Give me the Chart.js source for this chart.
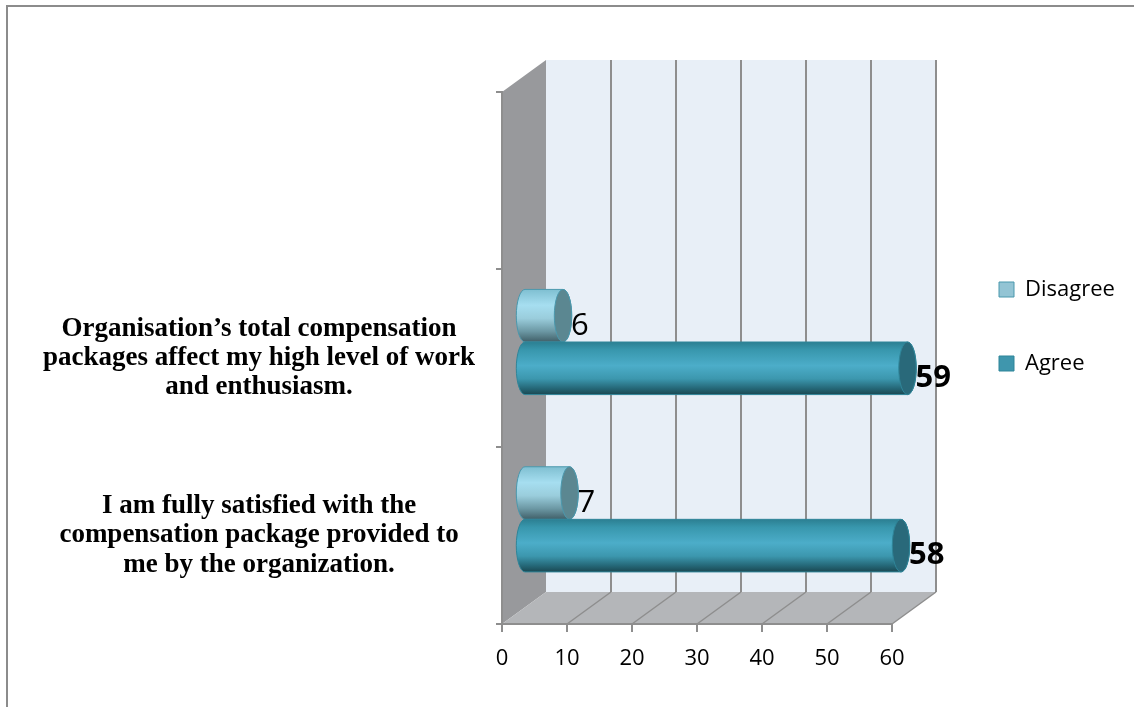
<!DOCTYPE html>
<html>
<head>
<meta charset="utf-8">
<title>Compensation packages</title>
<script src="https://cdn.jsdelivr.net/npm/chart.js@4.4.1/dist/chart.umd.min.js"></script>
<style>
  html, body { margin: 0; padding: 0; background: #fff; overflow: hidden; }
  #frame { position: absolute; left: 6px; top: 5px; width: 1300px; height: 900px; border: 2px solid #8c8c8c; }
  #wrap { position: absolute; left: 0; top: 0; width: 1134px; height: 707px; }
</style>
</head>
<body>
<div id="frame"></div>
<div id="wrap"><canvas id="chart"></canvas></div>
<script>
  // categories listed top to bottom (the top band is empty in the original)
  const CATEGORIES = [
    "",
    ["Organisation’s total compensation", "packages affect my high level of work", "and enthusiasm."],
    ["I am fully satisfied with the", "compensation package provided to", "me by the organization."]
  ];
  const SERIES = ["Disagree", "Agree"];
  const DISAGREE = [null, 6, 7];
  const AGREE = [null, 59, 58];
  const X_MIN = 0;
  const X_MAX = 60;
  const X_STEP = 10;

  const DEPTH = { dx: 44, dy: -32 };
  const GRID = "#8e8e8e";
  const LOOK = {
    Disagree: { fill: "#93c4d4", edge: "#4b98ad", cap: "#5b8791",
      stops: [[0, "#7fbfd1"], [0.3, "#a6def0"], [0.55, "#9acddc"], [0.8, "#6b97a3"], [1, "#405f68"]] },
    Agree: { fill: "#3f96ad", edge: "#2f8599", cap: "#29697a",
      stops: [[0, "#2c7f92"], [0.15, "#3897ad"], [0.45, "#4cadc9"], [0.7, "#3c97ae"], [0.88, "#256878"], [1, "#1a4852"]] }
  };

  function poly(ctx, points, fill) {
    ctx.beginPath();
    points.forEach(([px, py], i) => (i ? ctx.lineTo(px, py) : ctx.moveTo(px, py)));
    ctx.closePath();
    ctx.fillStyle = fill;
    ctx.fill();
  }

  function line(ctx, x1, y1, x2, y2) {
    ctx.beginPath();
    ctx.moveTo(x1, y1);
    ctx.lineTo(x2, y2);
    ctx.stroke();
  }

  const room3d = {
    id: "room3d",
    beforeDraw(chart) {
      const { ctx, chartArea: a } = chart;
      const x = chart.scales.x;
      const { dx, dy } = DEPTH;
      ctx.save();
      ctx.fillStyle = "#e8eff7";
      ctx.fillRect(a.left + dx, a.top + dy, a.right - a.left, a.bottom - a.top);
      poly(ctx, [[a.left, a.top], [a.left + dx, a.top + dy], [a.left + dx, a.bottom + dy], [a.left, a.bottom]], "#98999c");
      poly(ctx, [[a.left, a.bottom], [a.left + dx, a.bottom + dy], [a.right + dx, a.bottom + dy], [a.right, a.bottom]], "#b4b6b9");
      ctx.strokeStyle = GRID;
      ctx.lineWidth = 2;
      x.ticks.forEach((tick, i) => {
        if (tick.value === X_MIN) return;
        const px = x.getPixelForTick(i);
        line(ctx, px + dx, a.top + dy, px + dx, a.bottom + dy);
        ctx.lineWidth = 1.5;
        line(ctx, px, a.bottom, px + dx, a.bottom + dy);
        ctx.lineWidth = 2;
      });
      ctx.restore();
    },
    beforeDatasetsDraw(chart) {
      const { ctx } = chart;
      const hx = DEPTH.dx / 2, hy = DEPTH.dy / 2;
      chart.data.datasets.forEach((ds, di) => {
        const look = LOOK[ds.label];
        chart.getDatasetMeta(di).data.forEach((el, i) => {
          if (ds.data[i] == null) return;
          const x0 = el.base + hx, x1 = el.x + hx;
          const ry = el.height / 2, rx = 8.7;
          const cy = el.y + hy;
          const grad = ctx.createLinearGradient(0, cy - ry, 0, cy + ry);
          look.stops.forEach(([o, c]) => grad.addColorStop(o, c));
          ctx.save();
          ctx.beginPath();
          ctx.moveTo(x0, cy - ry);
          ctx.lineTo(x1, cy - ry);
          ctx.ellipse(x1, cy, rx, ry, 0, -Math.PI / 2, Math.PI / 2);
          ctx.lineTo(x0, cy + ry);
          ctx.ellipse(x0, cy, rx, ry, 0, Math.PI / 2, Math.PI * 1.5);
          ctx.closePath();
          ctx.fillStyle = grad;
          ctx.fill();
          ctx.strokeStyle = look.edge;
          ctx.lineWidth = 1;
          ctx.stroke();
          ctx.beginPath();
          ctx.ellipse(x1, cy, rx, ry, 0, 0, Math.PI * 2);
          ctx.fillStyle = look.cap;
          ctx.fill();
          ctx.stroke();
          ctx.restore();
        });
      });
      return false;
    },
    afterDraw(chart) {
      const { ctx } = chart;
      const hx = DEPTH.dx / 2, hy = DEPTH.dy / 2;
      ctx.save();
      ctx.fillStyle = "#000";
      ctx.textAlign = "left";
      ctx.textBaseline = "middle";
      chart.data.datasets.forEach((ds, di) => {
        ctx.font = (ds.label === "Agree" ? "bold " : "") + "31px 'Open Sans'";
        chart.getDatasetMeta(di).data.forEach((el, i) => {
          if (ds.data[i] == null) return;
          ctx.fillText(String(ds.data[i]), el.x + hx + 8, el.y + hy + 10);
        });
      });
      ctx.restore();
    },
    afterLayout(chart) {
      const lg = chart.legend;
      if (!lg) return;
      lg.left = 947;
      lg.right = 1134;
      lg.width = lg.right - lg.left;
      lg.top = 226.5;
      lg.bottom = 707;
      lg.height = lg.bottom - lg.top;
    }
  };

  new Chart(document.getElementById("chart"), {
    type: "bar",
    data: {
      labels: CATEGORIES,
      datasets: [
        { label: SERIES[0], data: DISAGREE, backgroundColor: LOOK.Disagree.fill, borderColor: LOOK.Disagree.edge, borderWidth: 1 },
        { label: SERIES[1], data: AGREE, backgroundColor: LOOK.Agree.fill, borderColor: LOOK.Agree.edge, borderWidth: 1 }
      ]
    },
    options: {
      indexAxis: "y",
      responsive: true,
      maintainAspectRatio: false,
      animation: false,
      datasets: { bar: { categoryPercentage: 0.593, barPercentage: 1 } },
      layout: { padding: { top: 92, right: 92, bottom: 0, left: 0 } },
      plugins: {
        tooltip: { enabled: false },
        legend: {
          position: "right",
          align: "start",
          maxWidth: 150,
          labels: { boxWidth: 15, boxHeight: 15, padding: 52, color: "#000", font: { family: "'Open Sans'", size: 22 } }
        }
      },
      scales: {
        x: {
          type: "linear",
          min: X_MIN,
          max: X_MAX,
          ticks: { stepSize: X_STEP, color: "#000", padding: 14, font: { family: "'Open Sans'", size: 22 } },
          grid: { drawOnChartArea: false, tickLength: 8, color: GRID, lineWidth: 2 },
          border: { color: GRID, width: 2 },
          afterFit: scale => { scale.height = 83; }
        },
        y: {
          type: "category",
          ticks: {
            autoSkip: false,
            crossAlign: "center",
            padding: 21,
            color: "#000",
            font: { family: "'Liberation Serif'", size: 27, weight: "bold", lineHeight: 1.09 }
          },
          grid: { drawOnChartArea: false, tickLength: 6, color: GRID, lineWidth: 2 },
          border: { color: GRID, width: 2 },
          afterFit: scale => { scale.width = 502; }
        }
      }
    },
    plugins: [room3d]
  });
</script>
</body>
</html>
